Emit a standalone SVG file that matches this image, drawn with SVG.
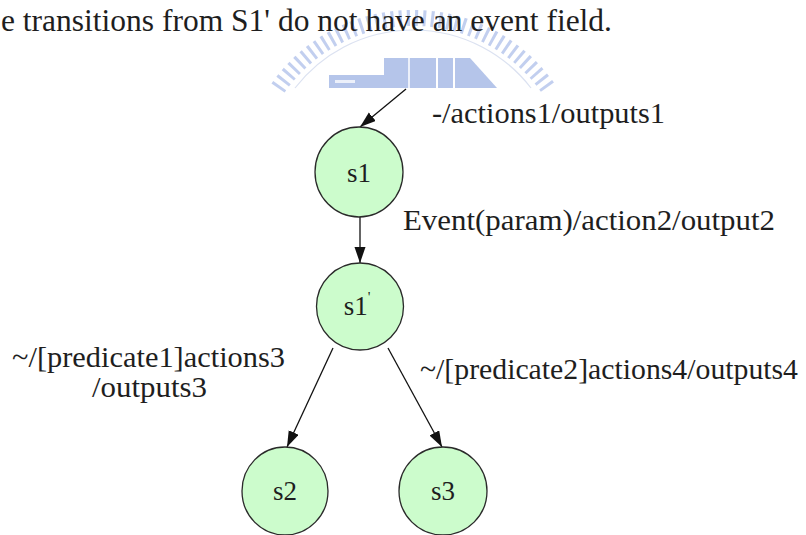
<svg xmlns="http://www.w3.org/2000/svg" width="806" height="535" viewBox="0 0 806 535">
  <defs>
    <style>
      text { font-family: 'Liberation Serif', 'DejaVu Serif', serif; fill: #1e1e1e; }
      .state { fill: #ccfccc; stroke: #2a2a2a; stroke-width: 1.3; }
      .lbl { font-size: 29px; }
      .name { font-size: 27px; text-anchor: middle; }
      .edge { fill: none; stroke: #111; stroke-width: 1.3; marker-end: url(#arrow); }
      .wm { fill: #a3b7e5; }
    </style>
    <marker id="arrow" markerUnits="userSpaceOnUse" markerWidth="16" markerHeight="12" refX="16" refY="5.5" orient="auto">
      <path d="M0,0 L16,5.5 L0,11 Z" fill="#111"/>
    </marker>
  </defs>

  <rect width="806" height="535" fill="#ffffff"/>

  <!-- faint emblem behind the heading -->
  <g id="watermark" opacity="0.8">
    <path d="M278,88 A165,165 0 0 1 548,88" fill="none" stroke="#b4c4ec" stroke-width="16" stroke-dasharray="3 5"/>
    <path d="M295,88 A149,149 0 0 1 531,88" fill="none" stroke="#d3dbee" stroke-width="1.2"/>
    <rect class="wm" x="329" y="75" width="55" height="13"/>
    <rect x="335" y="80" width="20" height="3" fill="#e8edf9"/>
    <rect class="wm" x="384" y="58" width="52" height="30"/>
    <rect x="408" y="58" width="2" height="30" fill="#e8edf9"/>
    <rect class="wm" x="438" y="58" width="15" height="30"/>
    <polygon class="wm" points="455,58 470,58 497,88 455,88"/>
  </g>

  <text font-family="Liberation Serif, DejaVu Serif, serif" font-size="31" x="1" y="31" textLength="611" lengthAdjust="spacingAndGlyphs">e transitions from S1' do not have an event field.</text>

  <g id="connectors">
    <line class="edge" x1="406" y1="89" x2="360" y2="127"/>
    <line class="edge" x1="360" y1="217" x2="360" y2="263"/>
    <line class="edge" x1="333" y1="348" x2="287" y2="447"/>
    <line class="edge" x1="388" y1="348" x2="442" y2="447"/>
    <text class="lbl" x="432" y="123" textLength="233" lengthAdjust="spacingAndGlyphs">-/actions1/outputs1</text>
    <text class="lbl" x="403" y="230" textLength="372" lengthAdjust="spacingAndGlyphs">Event(param)/action2/output2</text>
    <text class="lbl" x="12" y="367" textLength="273" lengthAdjust="spacingAndGlyphs">~/[predicate1]actions3</text>
    <text class="lbl" x="92" y="397" textLength="115" lengthAdjust="spacingAndGlyphs">/outputs3</text>
    <text class="lbl" x="420" y="379" textLength="378" lengthAdjust="spacingAndGlyphs">~/[predicate2]actions4/outputs4</text>
  </g>

  <g id="s1">
    <ellipse class="state" cx="359" cy="172" rx="44" ry="45"/>
    <text class="name" x="359" y="182">s1</text>
  </g>

  <g id="s1p">
    <ellipse class="state" cx="360" cy="306.5" rx="43.5" ry="43.5"/>
    <text class="name" x="357" y="315">s1<tspan font-size="15" dy="-13">'</tspan></text>
  </g>

  <g id="s2">
    <ellipse class="state" cx="285" cy="491" rx="43" ry="44"/>
    <text class="name" x="285" y="500">s2</text>
  </g>

  <g id="s3">
    <ellipse class="state" cx="443" cy="491" rx="44" ry="44"/>
    <text class="name" x="443" y="500">s3</text>
  </g>
</svg>
